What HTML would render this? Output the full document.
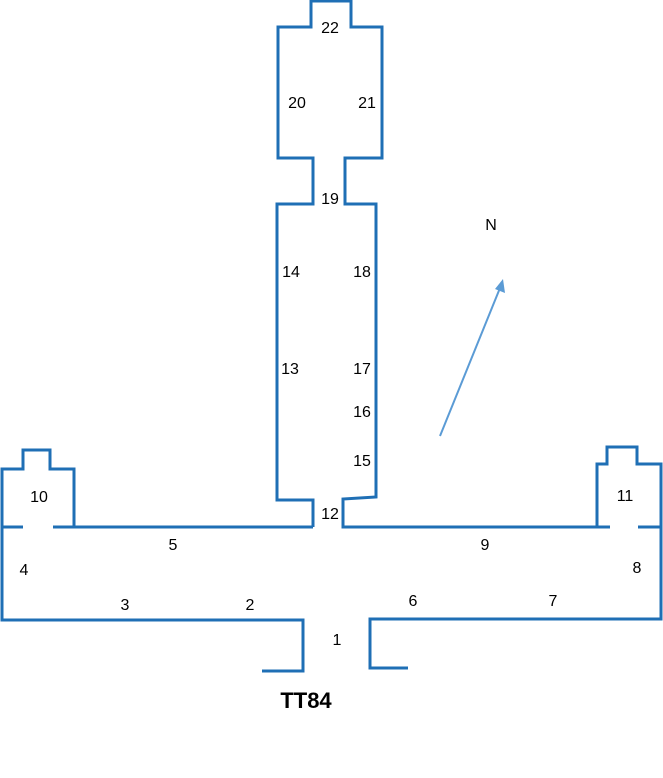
<!DOCTYPE html>
<html><head><style>
body{margin:0;background:#fff;}
svg text{font-family:"Liberation Sans",sans-serif;font-size:16px;fill:#000;}
</style></head><body>
<svg width="663" height="773" viewBox="0 0 663 773" xmlns="http://www.w3.org/2000/svg">
<g fill="none" stroke="#1f6fb5" stroke-width="3">
<polyline points="313,527 313,500 277,500 277,204 313,204 313,158 278,158 278,27 311,27 311,1 351,1 351,27 382,27 382,158 345,158 345,204 376,204 376,497 343,499 343,527 597,527"/>
<polyline points="313,527 74,527 74,469 50,469 50,450 23,450 23,469 2,469 2,620 303,620 303,671 262,671"/>
<line x1="2" y1="527" x2="23" y2="527"/>
<line x1="53" y1="527" x2="74" y2="527"/>
<polyline points="597,527 597,464 607,464 607,447 637,447 637,464 661,464 661,619 370,619 370,668 408,668"/>
<line x1="597" y1="527" x2="610" y2="527"/>
<line x1="638" y1="527" x2="661" y2="527"/>
</g>
<line x1="440" y1="436" x2="500" y2="288" stroke="#5b9bd5" stroke-width="2"/>
<polygon points="503,279 505,293 495,289" fill="#5b9bd5"/>
<g text-anchor="middle">
<text x="330" y="33">22</text>
<text x="297" y="108">20</text>
<text x="367" y="108">21</text>
<text x="330" y="204">19</text>
<text x="491" y="230">N</text>
<text x="291" y="277">14</text>
<text x="362" y="277">18</text>
<text x="290" y="374">13</text>
<text x="362" y="374">17</text>
<text x="362" y="417">16</text>
<text x="362" y="466">15</text>
<text x="39" y="502">10</text>
<text x="625" y="501">11</text>
<text x="330" y="519">12</text>
<text x="173" y="550">5</text>
<text x="485" y="550">9</text>
<text x="24" y="575">4</text>
<text x="637" y="573">8</text>
<text x="125" y="610">3</text>
<text x="250" y="610">2</text>
<text x="413" y="606">6</text>
<text x="553" y="606">7</text>
<text x="337" y="645">1</text>
<text x="306" y="708" style="font-size:22px;font-weight:bold">TT84</text>
</g>
</svg>
</body></html>
